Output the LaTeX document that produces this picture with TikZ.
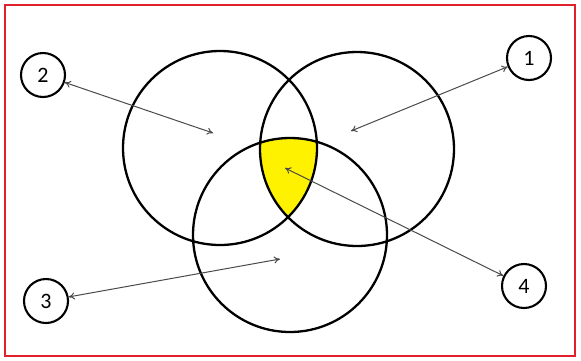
\documentclass[tikz,border=0pt]{standalone}
\usepackage{fontspec}
\setmainfont{Carlito}
\usetikzlibrary{arrows.meta}
\definecolor{framered}{HTML}{E0202A}
\definecolor{arrgray}{HTML}{4A4A4A}
\tikzset{
  venn/.style={draw=black, line width=2.3pt},
  numc/.style={circle, draw=black, line width=2.1pt, minimum size=44pt, inner sep=0pt, font=\fontsize{22}{22}\selectfont},
  arr/.style={draw=arrgray, line width=1pt, {To[length=6pt,width=7pt]}-{To[length=6pt,width=7pt]}},
}
\begin{document}
\begin{tikzpicture}[x=1pt,y=-1pt]
\useasboundingbox (0,0) rectangle (581,360);
\fill[white] (0,0) rectangle (581,360);
\draw[framered, line width=2pt] (5,5) rectangle (575,356);
\coordinate (cA) at (220,148);
\coordinate (cB) at (357,149);
\coordinate (cC) at (290,235);
\begin{scope}
  \clip (cA) circle (97);
  \clip (cB) circle (97);
  \fill[yellow] (cC) circle (97);
\end{scope}
\draw[venn] (cA) circle (97);
\draw[venn] (cB) circle (97);
\draw[venn] (cC) circle (97);
\node[numc] (n1) at (529,58) {1};
\node[numc] (n2) at (43,75) {2};
\node[numc] (n3) at (46,301) {3};
\node[numc] (n4) at (524,286) {4};
\coordinate (t1) at (351,131);
\coordinate (t2) at (213,133);
\coordinate (t3) at (280,259);
\coordinate (t4) at (285,168);
\draw[arr] (n1) -- (t1);
\draw[arr] (n2) -- (t2);
\draw[arr] (n3) -- (t3);
\draw[arr] (n4) -- (t4);
\end{tikzpicture}
\end{document}
